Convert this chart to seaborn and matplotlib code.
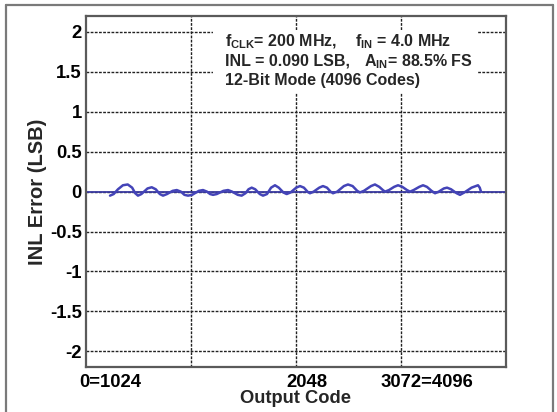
import numpy as np
import pandas as pd
import matplotlib
matplotlib.use("Agg")
import matplotlib.pyplot as plt
from matplotlib.lines import Line2D
from matplotlib.patches import Rectangle
import seaborn as sns

# INL curve (code, LSB)
codes = [234, 270, 312, 360, 407, 450, 480, 507, 540, 600, 641, 680, 720, 751, 790, 845,
         885, 925, 960, 995, 1035, 1100, 1141, 1180, 1210, 1239, 1275, 1340, 1385, 1425,
         1480, 1518, 1555, 1585, 1616, 1650, 1695, 1726, 1765, 1805, 1843, 1880, 1925,
         1957, 1995, 2050, 2087, 2125, 2160, 2184, 2220, 2275, 2311, 2350, 2385, 2409,
         2450, 2515, 2555, 2600, 2645, 2672, 2710, 2780, 2818, 2860, 2895, 2916, 2955,
         3005, 3043, 3085, 3130, 3160, 3195, 3250, 3287, 3325, 3370, 3404, 3440, 3490,
         3521, 3560, 3615, 3647, 3690, 3760, 3823, 3840, 3852]
inl = [-0.05, -0.03, 0.03, 0.08, 0.09, 0.05, -0.02, -0.05, -0.03, 0.04, 0.055, 0.03, -0.03,
       -0.05, -0.03, 0.01, 0.02, 0.0, -0.04, -0.05, -0.04, 0.01, 0.02, 0.0, -0.03, -0.04,
       -0.03, 0.01, 0.02, 0.0, -0.04, -0.05, -0.02, 0.03, 0.05, 0.03, -0.03, -0.05, -0.03,
       0.05, 0.08, 0.05, -0.01, -0.03, -0.01, 0.05, 0.07, 0.05, 0.0, -0.02, 0.0, 0.05, 0.07,
       0.05, 0.0, -0.02, 0.0, 0.07, 0.09, 0.07, 0.01, -0.01, 0.01, 0.07, 0.09, 0.06, 0.02,
       0.0, 0.02, 0.06, 0.08, 0.06, 0.02, 0.0, 0.02, 0.06, 0.08, 0.06, 0.01, -0.02, 0.0,
       0.04, 0.05, 0.03, -0.02, -0.04, -0.01, 0.05, 0.08, 0.05, 0.0]

yticks = [-2, -1.5, -1, -0.5, 0, 0.5, 1, 1.5, 2]
ytick_labels = ["-2", "-1.5", "-1", "-0.5", "0", "0.5", "1", "1.5", "2"]
grid_x = [1024, 2048, 3072]
xlabel_pos = [234, 2155, 3326]
xtick_labels = ["0=1024", "2048", "3072=4096"]

sns.set_style("white")
plt.rcParams["font.family"] = ["Liberation Sans", "DejaVu Sans"]
plt.rcParams["font.weight"] = "bold"
plt.rcParams["mathtext.fontset"] = "custom"
plt.rcParams["mathtext.rm"] = "Liberation Sans:bold"
plt.rcParams["mathtext.bf"] = "Liberation Sans:bold"

fig = plt.figure(figsize=(5.57, 4.12), dpi=100)
ax = fig.add_axes([86 / 557, 1 - 367.3 / 412, 420 / 557, 351.3 / 412])

df = pd.DataFrame({"code": codes, "inl": inl})
ax.axhline(0, color="#3a3aa0", lw=1.3, zorder=2)
sns.lineplot(data=df, x="code", y="inl", ax=ax, color="#4444b8", lw=1.8, zorder=3)

ax.set_xlim(0, 4096)
ax.set_ylim(-2.2, 2.2)

# gridlines
for yv in yticks:
    ax.axhline(yv, color="#222222", lw=1.0, ls=(0, (2, 1)), zorder=1)
for xv in grid_x:
    ax.axvline(xv, color="#222222", lw=1.0, ls=(0, (2, 1)), zorder=1)

ax.set_yticks(yticks)
ax.set_yticklabels(ytick_labels)
ax.set_xticks(xlabel_pos)
ax.set_xticklabels(xtick_labels)
ax.tick_params(axis="both", length=0, labelsize=13.3, colors="black")
ax.tick_params(axis="y", pad=3)
ax.tick_params(axis="x", pad=5)
for lab in ax.get_xticklabels() + ax.get_yticklabels():
    lab.set_fontweight("bold")

ax.set_xlabel("Output Code", fontsize=13.2, fontweight="bold", labelpad=-1)
ax.set_ylabel("INL Error (LSB)", fontsize=14.5, fontweight="bold", labelpad=2)

for s in ax.spines.values():
    s.set_color("#5a5a5a")
    s.set_linewidth(1.6)

# white box behind the annotation hides the grid there
ax.add_patch(Rectangle((1238, 1.24), 2575, 0.79, facecolor="white",
                       edgecolor="none", zorder=1.5))

tkw = dict(fontsize=11.5, fontweight="bold", va="baseline", ha="left", zorder=4)
ax.text(1355, 1.818, r"f$_{\rm CLK}$= 200 MHz,", **tkw)
ax.text(2623, 1.818, r"f$_{\rm IN}$ = 4.0 MHz", **tkw)
ax.text(1355, 1.574, "INL = 0.090 LSB,", **tkw)
ax.text(2711, 1.574, r"A$_{\rm IN}$= 88.5% FS", **tkw)
ax.text(1355, 1.33, "12-Bit Mode (4096 Codes)", **tkw)

# outer frame (bottom cut off in the original)
fw, fh = 557, 412
frame_kw = dict(color="#7a7a7a", lw=1.6, transform=fig.transFigure)
fig.add_artist(Line2D([6 / fw, 6 / fw], [0, 1 - 5 / fh], **frame_kw))
fig.add_artist(Line2D([6 / fw, 553 / fw], [1 - 5 / fh, 1 - 5 / fh], **frame_kw))
fig.add_artist(Line2D([553 / fw, 553 / fw], [0, 1 - 5 / fh], **frame_kw))

fig.savefig("out.png", dpi=100)
